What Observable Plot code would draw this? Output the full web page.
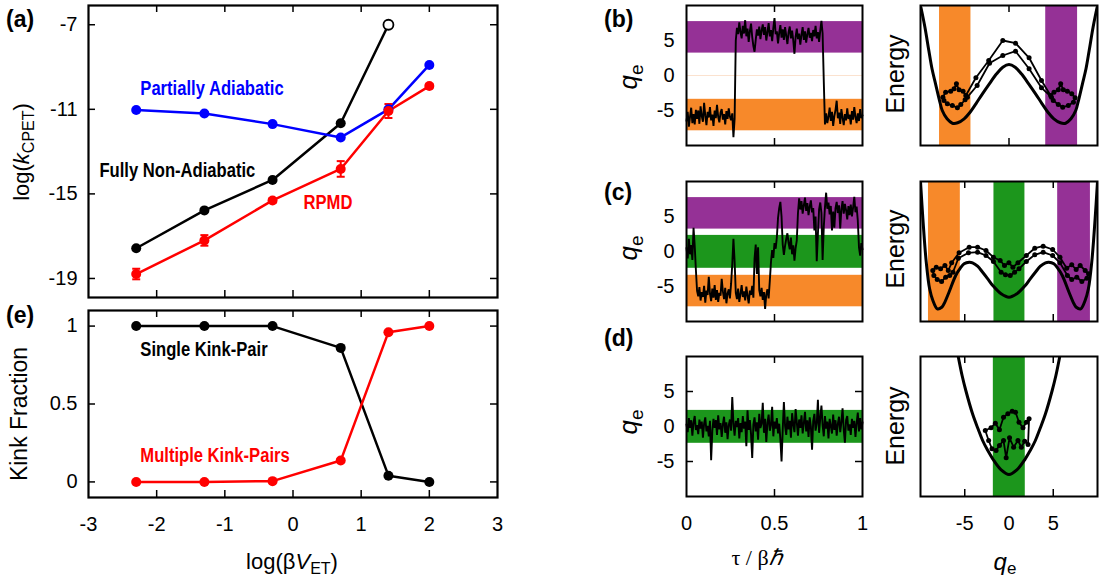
<!DOCTYPE html>
<html>
<head>
<meta charset="utf-8">
<script src="https://cdn.jsdelivr.net/npm/d3@7"></script>
<script src="https://cdn.jsdelivr.net/npm/@observablehq/plot@0.6"></script>
<style>
  body { margin: 0; background: #fff; }
  #fig { position: relative; width: 1099px; height: 582px; overflow: hidden; background: #fff; }
  #fig svg { position: absolute; overflow: visible; }
</style>
</head>
<body>
<div id="fig"></div>
<script>
// ---------- (a) rate constants vs coupling ----------
const logBV = [-2.3, -1.3, -0.3, 0.7, 1.4, 2.0];
const partiallyAdiabatic = [-11.03, -11.2, -11.7, -12.33, -11.0, -8.9];
const fullyNonAdiabatic = [-17.57, -15.78, -14.34, -11.66, -7.0];
const fullyNonAdiabaticOpen = [false, false, false, false, true];
const rpmdRate = [-18.79, -17.2, -15.31, -13.82, -11.08, -9.9];
const rpmdErr = [0.25, 0.25, 0.1, 0.37, 0.33, 0.1];

// ---------- (e) kink fractions ----------
const singleKinkPair = [1, 1, 1, 0.86, 0.04, 0];
const multipleKinkPairs = [0, 0, 0.005, 0.137, 0.961, 1];

// ---------- tick values ----------
const ticksA = [-19, -15, -11, -7];
const ticksE = [0, 0.5, 1];
const ticksLogBV = [-3, -2, -1, 0, 1, 2, 3];
const ticksTau = [0, 0.5, 1];
const ticksQ = [-5, 0, 5];

// ---------- state windows (q_e ranges) ----------
const bandsB = [{lo: -7.9, hi: -3.4, c: "orange"}, {lo: 3.2, hi: 7.7, c: "purple"}];
const bandsC = [{lo: -7.9, hi: -3.4, c: "orange"}, {lo: -2.4, hi: 2.3, c: "green"}, {lo: 3.2, hi: 7.7, c: "purple"}];
const bandsD = [{lo: -2.4, hi: 2.3, c: "green"}];
const wellBandsB = [{lo: -7.85, hi: -4.3, c: "orange"}, {lo: 4.15, hi: 7.75, c: "purple"}];
const wellBandsC = [{lo: -9.1, hi: -5.5, c: "orange"}, {lo: -1.7, hi: 1.8, c: "green"}, {lo: 5.5, hi: 9.2, c: "purple"}];
const wellBandsD = [{lo: -1.77, hi: 1.84, c: "green"}];
const bandColor = {orange: "#f7892a", purple: "#953196", green: "#1c961c"};

// ---------- ring-polymer bead coordinate q_e along imaginary time ----------
const traceB = [-6.5,-5.2,-7.3,-5.9,-4.6,-6.8,-5.5,-7.0,-4.9,-6.2,-5.0,-6.9,-4.4,-5.8,-6.6,-3.9,-5.7,-7.1,-5.2,-6.0,
  -4.5,-6.4,-5.6,-7.2,-5.0,-6.1,-4.2,-5.9,-6.7,-5.3,-4.8,-6.3,-5.5,-7.0,-5.1,-6.2,-4.7,-5.9,-6.4,-5.4,
  -8.8,-6.2,5.0,6.8,5.9,7.6,6.2,5.3,7.1,6.0,7.9,5.6,6.7,4.8,6.3,7.4,5.5,4.2,3.4,5.1,
  6.6,5.7,7.0,5.2,6.4,7.3,5.8,6.9,5.0,6.2,7.5,5.6,6.5,4.9,6.8,8.2,5.9,6.3,4.6,6.1,
  7.2,5.4,6.6,5.1,6.9,5.7,4.5,6.2,7.0,5.3,6.4,5.0,3.1,5.5,6.7,5.2,6.0,4.4,5.8,6.9,
  5.1,6.3,4.7,5.9,6.8,5.4,6.1,4.9,6.5,5.6,7.1,5.3,6.2,4.8,6.4,7.8,6.0,-0.8,-7.0,-5.4,
  -6.8,-5.9,-4.6,-6.5,-5.2,-7.2,-5.8,-4.9,-3.6,-6.1,-5.3,-6.9,-4.8,-6.0,-7.1,-5.5,-6.4,-4.7,-6.2,-5.6,
  -7.0,-5.1,-6.3,-4.5,-5.9,-6.8,-5.4,-6.5,-4.8,-6.1,-5.7];
const traceC = [0.5,-1.0,1.8,-0.4,0.9,-1.2,3.4,0.8,-2.6,-5.6,
  -6.4,-5.1,-7.0,-5.8,-6.5,-4.9,-7.3,-5.6,-6.2,-3.6,-6.0,-7.1,-5.3,-6.6,-4.8,-6.9,-5.5,-7.2,-5.9,-6.3,
  -3.9,-5.7,-6.8,-5.2,-7.4,-6.0,-5.4,-6.7,-4.6,-1.8,1.8,-1.4,-5.9,
  -6.8,-5.3,-7.2,-6.1,-4.8,-6.5,-5.7,-7.0,-5.0,-6.3,-7.4,-5.6,-6.2,-4.9,-6.6,
  -1.0,1.0,-3.2,0.6,-5.5,-6.4,-5.2,-6.9,-5.8,-8.2,-6.1,-5.4,-6.7,-4.2,
  -1.5,0.2,-0.9,1.2,0.4,2.0,4.8,6.2,7.1,5.0,1.0,-0.5,0.8,1.8,2.6,1.2,0.3,2.0,-0.4,0.9,-1.3,0.5,1.6,5.5,
  7.6,6.0,7.2,5.4,6.6,7.7,5.8,6.9,5.2,6.4,7.3,5.6,6.2,3.0,5.0,-1.4,2.5,6.0,7.0,5.5,
  -1.2,3.5,6.3,8.4,6.1,7.0,5.3,6.5,3.0,5.7,3.4,6.2,7.1,5.5,6.6,3.3,6.0,7.2,5.4,6.8,
  5.9,4.6,6.5,5.2,6.7,5.0,6.3,7.8,5.6,6.4,4.4,0.6,-0.6,1.2,0.3];
const traceD = [0.3,-0.8,1.2,-0.2,0.9,-1.3,0.6,1.5,-0.5,0.2,-1.1,1.0,-0.3,0.7,-1.6,0.4,1.3,-0.7,0.1,-1.4,
  0.8,-4.8,-0.6,1.1,-0.2,0.9,-1.2,1.6,-0.4,0.5,-1.5,0.3,1.4,-0.9,0.6,-1.8,0.2,1.0,-0.6,4.2,
  0.4,-1.3,0.8,-0.1,1.2,-1.7,0.5,-0.8,1.5,-0.3,0.7,-2.8,2.3,-0.5,0.9,-1.1,-4.5,0.3,1.3,-0.7,
  0.6,-1.9,1.8,-0.2,0.4,3.4,-0.9,1.1,-2.2,0.5,1.7,-0.6,0.2,2.8,-1.4,0.7,-0.3,1.2,-1.0,0.4,
  -1.8,-5.0,-0.5,3.5,0.1,-1.2,1.4,-0.4,0.8,-1.6,1.9,0.3,-0.8,2.5,0.6,-1.3,1.0,-0.2,1.6,-1.0,
  0.5,2.1,-0.7,0.9,-1.5,1.3,0.0,-3.3,0.8,1.8,-0.6,0.4,3.8,-0.9,1.2,3.0,0.2,-1.4,1.5,-0.3,
  0.7,-1.7,1.1,0.1,-1.0,1.7,-0.5,0.9,-1.3,0.4,1.4,-0.8,0.6,2.6,-0.4,-2.3,0.9,1.5,-0.6,0.3,
  -1.2,1.1,-0.2,0.8,-1.5,0.5,2.0,-0.7,1.2,-0.4,0.6];

// ---------- potential energy curves along q_e ----------
const wellB_q = [-9.95,-9.5,-9.06,-8.7,-8.3,-7.9,-7.54,-7.0,-6.4,-5.8,-5.07,-4.4,-3.74,-3.0,-2.22,-1.4,-0.7,0,
  0.7,1.4,2.22,3.0,3.74,4.4,5.07,5.8,6.4,7.0,7.54,7.9,8.3,8.7,9.06,9.5,9.95];
const wellB_E = [138,118.3,95,76.7,61.7,46.7,35,26.7,22.3,22.7,26.7,33.3,41.7,51.7,61.7,71.7,78.3,81,
  78.3,71.7,61.7,51.7,41.7,33.3,26.7,22.7,22.3,26.7,35,46.7,61.7,76.7,95,118.3,138];
const wellC_q = [-10,-9.73,-9.35,-8.97,-8.6,-8.1,-7.6,-7.34,-6.78,-6.02,-5.5,-5.07,-4.5,-4.12,-3.55,-2.98,-2.4,-1.84,-0.89,0,
  0.89,1.84,2.4,2.98,3.55,4.12,4.5,5.07,5.5,6.02,6.78,7.34,7.6,8.1,8.6,8.97,9.35,9.73,10];
const wellC_E = [140,102.7,59.3,32.7,21,12.7,14.3,17.7,29.3,46,53.3,57.7,59.3,58.7,55.3,49.3,42.7,36,27.7,24.3,
  27.7,36,42.7,49.3,55.3,58.7,59.3,57.7,53.3,46,29.3,17.7,14.3,12.7,21,32.7,59.3,102.7,140];
const wellD_q = [-5.72,-5.3,-4.88,-4.12,-3.5,-2.98,-2.4,-1.84,-0.89,0,0.89,1.84,2.4,2.98,3.5,4.12,4.88,5.3,5.72];
const wellD_E = [139.3,121,106,82.7,67.7,56,46,37.7,26.7,22,26.7,37.7,46,56,67.7,82.7,106,121,139.3];

// ---------- ring-polymer snapshots (closed bead loops) ----------
const beadsB_q = [-7.47,-7.16,-6.59,-6.21,-5.94,-5.64,-5.19,-4.88,-3.74,-2.29,-0.7,0.74,2.27,3.67,
  4.7,5.08,5.57,5.84,6.14,6.6,7.09,7.47,7.28,6.7,6.07,5.57,5.0,4.8,
  3.67,2.27,0.74,-0.7,-2.2,-3.6,-4.7,-4.96,-5.45,-5.83,-6.4,-6.97,-7.35];
const beadsB_E = [48.3,53.3,54.3,56.7,61.7,55.7,54.3,50,67.7,85,105,102.3,87.7,65,
  50,53.3,55.7,61.7,55.7,54.3,51.7,47.7,43.3,40,38.3,41,45,48.3,
  57.7,76.7,94.3,90,82.3,60,48.3,45.7,41,37.7,40,41.7,45];
const beadsC_q = [-8.61,-8.22,-7.73,-7.24,-6.86,-6.48,-5.64,-4.5,-3.55,-2.6,-1.76,
  -1.0,-0.51,-0.01,0.44,1.01,1.96,2.91,3.86,4.93,5.76,
  6.52,7.09,7.59,8.04,8.61,8.99,8.8,8.23,7.66,7.09,6.6,
  5.76,4.93,3.86,2.91,1.96,1.13,0.63,0.14,-0.4,-0.89,
  -1.76,-2.6,-3.55,-4.58,-5.72,-6.33,-6.7,-7.16,-7.62,-8.11,-8.49];
const beadsC_E = [51,54.3,52.7,56,51,58.7,68.7,74.3,74.3,71,64.3,
  61,56,58.7,54.3,58.7,66,73.3,75.3,72,64.3,
  53.3,56.7,52,56,51,47.7,43.3,40,44.3,42,46,
  58.7,66,69.3,66.7,60,52.7,49.3,46,46.7,49.3,
  60,66,69.3,68.7,63.3,49.3,46,44.3,40,42,46];
const beadsD_q = [-2.68,-2.03,-1.54,-1.08,-0.62,-0.13,0.36,0.74,1.13,1.58,1.96,2.27,
  2.15,1.77,1.39,1.01,0.52,0.06,-0.32,-0.62,-1.08,-1.46,-1.92,-2.3];
const beadsD_E = [66,68.7,73.3,66.7,79.3,82.7,85.3,84.3,74.3,68.7,74.3,77.7,
  52,55.3,49.3,56,49.3,58.7,38.7,56,51,46,47.7,56];

// ---------- shared helpers ----------
const fig = document.getElementById("fig");
const zip = (xs, ys) => xs.map((x, i) => ({x, y: ys[i]}));
const num = d => String(d);

// inward ticks on both sides of the frame
const ticksInX = (vals, h, len = 7) => [
  Plot.tickX(vals, {x: d => d, insetTop: h - len, stroke: "black", strokeWidth: 1.5}),
  Plot.tickX(vals, {x: d => d, insetBottom: h - len, stroke: "black", strokeWidth: 1.5})
];
const ticksInY = (vals, w, len = 7) => [
  Plot.tickY(vals, {y: d => d, insetRight: w - len, stroke: "black", strokeWidth: 1.5}),
  Plot.tickY(vals, {y: d => d, insetLeft: w - len, stroke: "black", strokeWidth: 1.5})
];
const capSymbol = {draw(ctx, size) { const r = Math.sqrt(size / Math.PI); ctx.moveTo(-r, 0); ctx.lineTo(r, 0); }};
const baseStyle = (left, top) => ({
  position: "absolute", left: left + "px", top: top + "px",
  fontFamily: "'Liberation Sans', Arial, sans-serif", fontSize: "20px",
  background: "transparent", overflow: "visible", color: "black"
});

// bold in-plot labels are set in a narrow cut
function condenseLabels(svg, factor) {
  d3.select(svg).selectAll('g[aria-label="text"] text').each(function () {
    const w = this.getComputedTextLength();
    this.setAttribute("textLength", w * factor);
    this.setAttribute("lengthAdjust", "spacingAndGlyphs");
  });
}

// ---------- panel (a) ----------
{
  const rows = logBV.map((x, i) => ({x, pa: partiallyAdiabatic[i], rp: rpmdRate[i], err: rpmdErr[i]}));
  const fna = fullyNonAdiabatic.map((y, i) => ({x: logBV[i], y, open: fullyNonAdiabaticOpen[i]}));
  const labels = [
    {x: -2.24, y: -10.0, text: "Partially Adiabatic", c: "#0000ff"},
    {x: -2.84, y: -13.92, text: "Fully Non-Adiabatic", c: "#000000"},
    {x: 0.154, y: -15.4, text: "RPMD", c: "#ff0000"}
  ];
  const W = 409, H = 292;
  const svg = Plot.plot({
    width: 88 + W + 13, height: 5 + H + 3,
    marginLeft: 88, marginRight: 13, marginTop: 5, marginBottom: 3,
    style: baseStyle(0, 0),
    x: {domain: [-3, 3], axis: null},
    y: {domain: [-19.9, -6.09], ticks: ticksA, tickSize: 0, tickPadding: 11, tickFormat: num, label: null},
    marks: [
      ...ticksInX([-2, -1, 0, 1, 2], H),
      ...ticksInY(ticksA, W),
      Plot.line(fna, {x: "x", y: "y", stroke: "black", strokeWidth: 2.5}),
      Plot.line(rows, {x: "x", y: "pa", stroke: "#0000ff", strokeWidth: 2.5}),
      Plot.line(rows, {x: "x", y: "rp", stroke: "#ff0000", strokeWidth: 2.5}),
      Plot.ruleX(rows, {x: "x", y1: d => d.rp - d.err, y2: d => d.rp + d.err, stroke: "#ff0000", strokeWidth: 2}),
      Plot.dot(rows, {x: "x", y: d => d.rp - d.err, symbol: capSymbol, r: 4, stroke: "#ff0000", strokeWidth: 2}),
      Plot.dot(rows, {x: "x", y: d => d.rp + d.err, symbol: capSymbol, r: 4, stroke: "#ff0000", strokeWidth: 2}),
      Plot.dot(fna.filter(d => !d.open), {x: "x", y: "y", r: 5, fill: "black"}),
      Plot.dot(fna.filter(d => d.open), {x: "x", y: "y", r: 5, fill: "white", stroke: "black", strokeWidth: 1.8}),
      Plot.dot(rows, {x: "x", y: "pa", r: 5, fill: "#0000ff"}),
      Plot.dot(rows, {x: "x", y: "rp", r: 5, fill: "#ff0000"}),
      Plot.text(labels, {x: "x", y: "y", text: "text", fill: "c", textAnchor: "start",
        fontFamily: "'Liberation Sans', Arial, sans-serif", fontWeight: "bold", fontSize: 20}),
      Plot.frame({stroke: "black", strokeWidth: 2.2})
    ]
  });
  fig.appendChild(svg);
  condenseLabels(svg, 0.83);
}

// ---------- panel (e) ----------
{
  const rows = logBV.map((x, i) => ({x, s: singleKinkPair[i], m: multipleKinkPairs[i]}));
  const labels = [
    {x: -2.24, y: 0.85, text: "Single Kink-Pair", c: "#000000"},
    {x: -2.24, y: 0.17, text: "Multiple Kink-Pairs", c: "#ff0000"}
  ];
  const W = 409, H = 187;
  const svg = Plot.plot({
    width: 88 + W + 13, height: 10 + H + 50,
    marginLeft: 88, marginRight: 13, marginTop: 10, marginBottom: 50,
    style: baseStyle(0, 300),
    x: {domain: [-3, 3], ticks: ticksLogBV, tickSize: 0, tickPadding: 19, tickFormat: num, label: null},
    y: {domain: [-0.1, 1.1], ticks: ticksE, tickSize: 0, tickPadding: 11, tickFormat: num, label: null},
    marks: [
      ...ticksInX([-2, -1, 0, 1, 2], H),
      ...ticksInY(ticksE, W),
      Plot.line(rows, {x: "x", y: "s", stroke: "black", strokeWidth: 2.5}),
      Plot.line(rows, {x: "x", y: "m", stroke: "#ff0000", strokeWidth: 2.5}),
      Plot.dot(rows, {x: "x", y: "s", r: 5, fill: "black"}),
      Plot.dot(rows, {x: "x", y: "m", r: 5, fill: "#ff0000"}),
      Plot.text(labels, {x: "x", y: "y", text: "text", fill: "c", textAnchor: "start",
        fontFamily: "'Liberation Sans', Arial, sans-serif", fontWeight: "bold", fontSize: 20}),
      Plot.frame({stroke: "black", strokeWidth: 2.2})
    ]
  });
  fig.appendChild(svg);
  condenseLabels(svg, 0.83);
}

// ---------- imaginary-time trajectories (b)-(d), left column ----------
function trajectoryPanel(trace, bands, frameTop, withXAxis, zeroLine) {
  const W = 176, H = 140, mL = 40, mR = 3, mT = 4, mB = withXAxis ? 48 : 3;
  const rows = trace.map((q, i) => ({t: i / (trace.length - 1), q}));
  const svg = Plot.plot({
    width: mL + W + mR, height: mT + H + mB,
    marginLeft: mL, marginRight: mR, marginTop: mT, marginBottom: mB,
    style: baseStyle(686 - mL, frameTop - mT),
    x: withXAxis
      ? {domain: [0, 1], ticks: ticksTau, tickSize: 0, tickPadding: 19, tickFormat: num, label: null}
      : {domain: [0, 1], axis: null},
    y: {domain: [-10, 10], ticks: ticksQ, tickSize: 0, tickPadding: 12, tickFormat: num, label: null},
    marks: [
      ...ticksInX([0.5], H),
      ...ticksInY([-5, 5], W),
      zeroLine ? Plot.ruleY([0], {stroke: "#fbe2cf", strokeWidth: 1}) : null,
      Plot.rect(bands, {y1: "lo", y2: "hi", fill: d => bandColor[d.c]}),
      Plot.line(rows, {x: "t", y: "q", stroke: "black", strokeWidth: 1.9, strokeLinejoin: "miter"}),
      Plot.frame({stroke: "black", strokeWidth: 2})
    ]
  });
  fig.appendChild(svg);
}

// ---------- potential + ring polymer (b)-(d), right column ----------
function energyPanel(wq, wE, bq, bE, bands, frameTop, withXAxis) {
  const W = 177, H = 140, mL = 3, mR = 3, mT = 4, mB = withXAxis ? 48 : 3;
  const svg = Plot.plot({
    width: mL + W + mR, height: mT + H + mB,
    marginLeft: mL, marginRight: mR, marginTop: mT, marginBottom: mB,
    style: baseStyle(920 - mL, frameTop - mT),
    x: withXAxis
      ? {domain: [-10, 10], ticks: ticksQ, tickSize: 0, tickPadding: 19, tickFormat: num, label: null}
      : {domain: [-10, 10], axis: null},
    y: {domain: [0, 140], axis: null},
    marks: [
      ...ticksInX(ticksQ, H),
      Plot.rect(bands, {x1: "lo", x2: "hi", fill: d => bandColor[d.c]}),
      Plot.line(zip(wq, wE), {x: "x", y: "y", curve: "catmull-rom", stroke: "black", strokeWidth: 3, clip: true}),
      Plot.line(zip(bq, bE), {x: "x", y: "y", curve: "linear-closed", stroke: "black", strokeWidth: 1.8}),
      Plot.dot(zip(bq, bE), {x: "x", y: "y", r: 2.5, fill: "black"}),
      Plot.frame({stroke: "black", strokeWidth: 2})
    ]
  });
  fig.appendChild(svg);
}

trajectoryPanel(traceB, bandsB, 5, false, true);
trajectoryPanel(traceC, bandsC, 181, false, false);
trajectoryPanel(traceD, bandsD, 356, true, false);
energyPanel(wellB_q, wellB_E, beadsB_q, beadsB_E, wellBandsB, 5, false);
energyPanel(wellC_q, wellC_E, beadsC_q, beadsC_E, wellBandsC, 181, false);
energyPanel(wellD_q, wellD_E, beadsD_q, beadsD_E, wellBandsD, 356, true);

// ---------- panel letters and axis titles ----------
const over = d3.select(fig).append("svg")
  .attr("width", 1099).attr("height", 582)
  .style("left", "0px").style("top", "0px").style("pointer-events", "none")
  .attr("font-family", "'Liberation Sans', Arial, sans-serif");

const letters = [
  {t: "(a)", x: 6, y: 19}, {t: "(e)", x: 6, y: 315},
  {t: "(b)", x: 604, y: 19}, {t: "(c)", x: 604, y: 192}, {t: "(d)", x: 604, y: 338}
];
over.selectAll("text.letter").data(letters).join("text")
  .attr("class", "letter")
  .attr("x", d => d.x).attr("y", d => d.y)
  .attr("dominant-baseline", "central")
  .attr("font-weight", "bold").attr("font-size", 23)
  .text(d => d.t);

// rich text: parts are [text, style] with style in {"", "i", "sub"}
function richText(x, y, parts, size, rotate) {
  const t = over.append("text")
    .attr("text-anchor", "middle")
    .attr("dominant-baseline", "central")
    .attr("font-size", size)
    .attr("transform", `translate(${x},${y})` + (rotate ? " rotate(-90)" : ""));
  let shifted = false;
  for (const [s, kind] of parts) {
    const span = t.append("tspan").text(s);
    if (kind === "i") span.attr("font-style", "italic");
    if (kind === "sub") {
      span.attr("font-size", Math.round(size * 0.72)).attr("dy", size * 0.3);
      shifted = true;
    } else if (shifted) {
      span.attr("dy", -size * 0.3);
      shifted = false;
    }
  }
  return t;
}

richText(21, 152, [["log(", ""], ["k", "i"], ["CPET", "sub"], [")", ""]], 22, true);
richText(19, 414, [["Kink Fraction", ""]], 23, true);
richText(292, 561, [["log(β", ""], ["V", "i"], ["ET", "sub"], [")", ""]], 22, false);
for (const y of [77, 248, 422]) richText(628, y, [["q", "i"], ["e", "sub"]], 26, true);
for (const y of [74, 249, 426]) richText(895, y, [["Energy", ""]], 25, true);
richText(757, 557, [["τ / β", ""], ["ℏ", "i"]], 22, false).attr("font-family", "'Liberation Serif', 'Times New Roman', serif");
richText(1005, 561, [["q", "i"], ["e", "sub"]], 24, false);
</script>
</body>
</html>
